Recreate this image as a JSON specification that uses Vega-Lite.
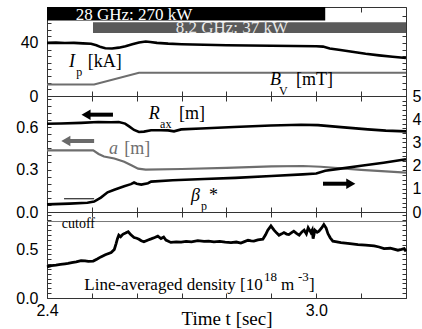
{
  "$schema": "https://vega.github.io/schema/vega-lite/v6.json",
  "padding": {"left": 15, "top": 5, "right": 2, "bottom": 2},
  "spacing": 0,
  "bounds": "flush",
  "config": {
    "view": {"stroke": "#333333", "strokeWidth": 1},
    "axis": {"labelFont": "Liberation Sans", "labelFontSize": 16, "labelColor": "#000000", "tickColor": "#333333", "domain": false, "grid": false, "labelFlush": false, "labelOverlap": false, "titleFont": "Liberation Serif", "titleFontSize": 19, "titleFontWeight": "normal", "titleColor": "#000000"},
    "text": {"font": "Liberation Serif", "fontSize": 17, "align": "left", "baseline": "alphabetic", "color": "#000000"}
  },
  "datasets": {
    "ip": [
      {"t": 2.400, "v": 40.0}, {"t": 2.420, "v": 40.2}, {"t": 2.440, "v": 39.9}, {"t": 2.460, "v": 40.0},
      {"t": 2.480, "v": 39.6}, {"t": 2.498, "v": 39.3}, {"t": 2.510, "v": 38.2}, {"t": 2.520, "v": 36.8},
      {"t": 2.530, "v": 36.0}, {"t": 2.545, "v": 35.8}, {"t": 2.560, "v": 36.4}, {"t": 2.575, "v": 37.5},
      {"t": 2.590, "v": 39.0}, {"t": 2.605, "v": 40.3}, {"t": 2.620, "v": 41.0}, {"t": 2.630, "v": 40.6},
      {"t": 2.645, "v": 40.0}, {"t": 2.670, "v": 39.4}, {"t": 2.700, "v": 39.0}, {"t": 2.750, "v": 38.6},
      {"t": 2.800, "v": 38.2}, {"t": 2.850, "v": 38.0}, {"t": 2.900, "v": 37.8}, {"t": 2.950, "v": 37.6},
      {"t": 3.000, "v": 37.5}, {"t": 3.015, "v": 37.2}, {"t": 3.030, "v": 35.8}, {"t": 3.050, "v": 34.8},
      {"t": 3.080, "v": 33.3}, {"t": 3.110, "v": 31.8}, {"t": 3.140, "v": 30.6}, {"t": 3.170, "v": 29.6},
      {"t": 3.200, "v": 28.6}
    ],
    "bv": [
      {"t": 2.400, "v": 8.7}, {"t": 2.505, "v": 8.7}, {"t": 2.605, "v": 17.5}, {"t": 3.200, "v": 17.5}
    ],
    "rax": [
      {"t": 2.400, "v": 0.624}, {"t": 2.431, "v": 0.626}, {"t": 2.476, "v": 0.630}, {"t": 2.514, "v": 0.636},
      {"t": 2.543, "v": 0.634}, {"t": 2.560, "v": 0.636}, {"t": 2.574, "v": 0.625}, {"t": 2.583, "v": 0.605},
      {"t": 2.594, "v": 0.580}, {"t": 2.605, "v": 0.566}, {"t": 2.616, "v": 0.568}, {"t": 2.632, "v": 0.578},
      {"t": 2.654, "v": 0.578}, {"t": 2.670, "v": 0.577}, {"t": 2.683, "v": 0.570}, {"t": 2.699, "v": 0.584},
      {"t": 2.743, "v": 0.590}, {"t": 2.817, "v": 0.601}, {"t": 2.899, "v": 0.612}, {"t": 2.966, "v": 0.617},
      {"t": 3.004, "v": 0.614}, {"t": 3.055, "v": 0.600}, {"t": 3.115, "v": 0.584}, {"t": 3.155, "v": 0.575},
      {"t": 3.200, "v": 0.570}
    ],
    "aminor": [
      {"t": 2.400, "v": 0.436}, {"t": 2.503, "v": 0.436}, {"t": 2.515, "v": 0.410}, {"t": 2.527, "v": 0.392},
      {"t": 2.550, "v": 0.378}, {"t": 2.572, "v": 0.355}, {"t": 2.588, "v": 0.330}, {"t": 2.603, "v": 0.306},
      {"t": 2.620, "v": 0.300}, {"t": 2.700, "v": 0.304}, {"t": 2.800, "v": 0.312}, {"t": 2.900, "v": 0.322},
      {"t": 2.970, "v": 0.325}, {"t": 3.010, "v": 0.320}, {"t": 3.100, "v": 0.298}, {"t": 3.200, "v": 0.278}
    ],
    "beta": [
      {"t": 2.400, "v": 0.33}, {"t": 2.450, "v": 0.36}, {"t": 2.490, "v": 0.40}, {"t": 2.505, "v": 0.45},
      {"t": 2.520, "v": 0.62}, {"t": 2.535, "v": 0.85}, {"t": 2.550, "v": 0.96}, {"t": 2.572, "v": 1.11},
      {"t": 2.587, "v": 1.20}, {"t": 2.594, "v": 1.27}, {"t": 2.600, "v": 1.22}, {"t": 2.610, "v": 1.18},
      {"t": 2.625, "v": 1.24}, {"t": 2.632, "v": 1.31}, {"t": 2.680, "v": 1.37}, {"t": 2.750, "v": 1.42},
      {"t": 2.820, "v": 1.47}, {"t": 2.900, "v": 1.55}, {"t": 2.970, "v": 1.62}, {"t": 3.000, "v": 1.66},
      {"t": 3.020, "v": 1.78}, {"t": 3.050, "v": 1.86}, {"t": 3.100, "v": 1.99}, {"t": 3.150, "v": 2.12},
      {"t": 3.200, "v": 2.27}
    ],
    "dens": [
      {"t": 2.400, "v": 0.320}, {"t": 2.410, "v": 0.333}, {"t": 2.420, "v": 0.338}, {"t": 2.430, "v": 0.345},
      {"t": 2.440, "v": 0.352}, {"t": 2.447, "v": 0.356}, {"t": 2.455, "v": 0.365}, {"t": 2.465, "v": 0.372},
      {"t": 2.476, "v": 0.385}, {"t": 2.485, "v": 0.382}, {"t": 2.492, "v": 0.376}, {"t": 2.503, "v": 0.380},
      {"t": 2.512, "v": 0.402}, {"t": 2.520, "v": 0.423}, {"t": 2.530, "v": 0.445}, {"t": 2.543, "v": 0.468},
      {"t": 2.550, "v": 0.500}, {"t": 2.554, "v": 0.560}, {"t": 2.557, "v": 0.610}, {"t": 2.560, "v": 0.646},
      {"t": 2.564, "v": 0.630}, {"t": 2.569, "v": 0.655}, {"t": 2.575, "v": 0.668}, {"t": 2.581, "v": 0.682},
      {"t": 2.587, "v": 0.650}, {"t": 2.594, "v": 0.622}, {"t": 2.600, "v": 0.615}, {"t": 2.605, "v": 0.605},
      {"t": 2.610, "v": 0.590}, {"t": 2.616, "v": 0.578}, {"t": 2.624, "v": 0.595}, {"t": 2.632, "v": 0.608},
      {"t": 2.640, "v": 0.622}, {"t": 2.647, "v": 0.636}, {"t": 2.654, "v": 0.612}, {"t": 2.660, "v": 0.628},
      {"t": 2.665, "v": 0.596}, {"t": 2.676, "v": 0.572}, {"t": 2.688, "v": 0.578}, {"t": 2.699, "v": 0.576},
      {"t": 2.710, "v": 0.583}, {"t": 2.722, "v": 0.578}, {"t": 2.736, "v": 0.590}, {"t": 2.750, "v": 0.582},
      {"t": 2.760, "v": 0.586}, {"t": 2.772, "v": 0.577}, {"t": 2.785, "v": 0.582}, {"t": 2.797, "v": 0.574},
      {"t": 2.810, "v": 0.570}, {"t": 2.822, "v": 0.576}, {"t": 2.832, "v": 0.565}, {"t": 2.840, "v": 0.580},
      {"t": 2.848, "v": 0.594}, {"t": 2.855, "v": 0.588}, {"t": 2.861, "v": 0.585}, {"t": 2.870, "v": 0.598},
      {"t": 2.881, "v": 0.605}, {"t": 2.887, "v": 0.650}, {"t": 2.892, "v": 0.698}, {"t": 2.899, "v": 0.742},
      {"t": 2.906, "v": 0.698}, {"t": 2.912, "v": 0.668}, {"t": 2.917, "v": 0.646}, {"t": 2.923, "v": 0.660},
      {"t": 2.928, "v": 0.673}, {"t": 2.934, "v": 0.658}, {"t": 2.939, "v": 0.653}, {"t": 2.945, "v": 0.672},
      {"t": 2.950, "v": 0.688}, {"t": 2.956, "v": 0.665}, {"t": 2.962, "v": 0.646}, {"t": 2.968, "v": 0.680},
      {"t": 2.973, "v": 0.698}, {"t": 2.978, "v": 0.660}, {"t": 2.982, "v": 0.722}, {"t": 2.986, "v": 0.690},
      {"t": 2.988, "v": 0.673}, {"t": 2.991, "v": 0.700}, {"t": 2.993, "v": 0.611}, {"t": 2.997, "v": 0.698},
      {"t": 3.002, "v": 0.676}, {"t": 3.006, "v": 0.688}, {"t": 3.012, "v": 0.720}, {"t": 3.017, "v": 0.756},
      {"t": 3.022, "v": 0.720}, {"t": 3.026, "v": 0.663}, {"t": 3.031, "v": 0.620}, {"t": 3.037, "v": 0.585},
      {"t": 3.046, "v": 0.578}, {"t": 3.055, "v": 0.570}, {"t": 3.065, "v": 0.565}, {"t": 3.075, "v": 0.560},
      {"t": 3.093, "v": 0.550}, {"t": 3.110, "v": 0.545}, {"t": 3.129, "v": 0.536}, {"t": 3.140, "v": 0.525},
      {"t": 3.151, "v": 0.508}, {"t": 3.165, "v": 0.512}, {"t": 3.182, "v": 0.492}, {"t": 3.190, "v": 0.500},
      {"t": 3.196, "v": 0.508}, {"t": 3.200, "v": 0.480}
    ]
  },
  "vconcat": [
    {
      "width": 359,
      "height": 89,
      "resolve": {"axis": {"x": "independent", "y": "independent"}},
      "layer": [
        {
          "data": {"values": [{"t1": 2.4, "t2": 3.02, "v1": 56.8, "v2": 67}]},
          "mark": {"type": "rect", "color": "#000000"},
          "encoding": {
            "x": {"field": "t1", "type": "quantitative", "scale": {"domain": [2.4, 3.2], "nice": false, "zero": false},
                  "axis": {"orient": "bottom", "values": [2.4, 2.5, 2.6, 2.7, 2.8, 2.9, 3.0, 3.1, 3.2], "labels": false, "title": null, "tickSize": -5}},
            "x2": {"field": "t2"},
            "y": {"field": "v1", "type": "quantitative", "scale": {"domain": [0, 67], "nice": false},
                  "axis": {"orient": "left", "values": [0, 5, 10, 15, 20, 25, 30, 35, 40, 45, 50, 55, 60], "labelExpr": "datum.value == 0 || datum.value == 40 ? datum.label : ''", "title": null, "tickSize": -4, "labelPadding": 13}},
            "y2": {"field": "v2"}
          }
        },
        {
          "data": {"values": [{"t1": 2.5025, "t2": 3.2, "v1": 47.5, "v2": 55.6}]},
          "mark": {"type": "rect", "color": "#5a5a5a"},
          "encoding": {
            "x": {"field": "t1", "type": "quantitative", "scale": {"domain": [2.4, 3.2], "nice": false, "zero": false}, "axis": null},
            "x2": {"field": "t2"},
            "y": {"field": "v1", "type": "quantitative", "scale": {"domain": [0, 67], "nice": false}, "axis": null},
            "y2": {"field": "v2"}
          }
        },
        {
          "data": {"name": "bv"},
          "mark": {"type": "line", "color": "#6e6e6e", "strokeWidth": 2},
          "encoding": {
            "x": {"field": "t", "type": "quantitative", "scale": {"domain": [2.4, 3.2], "nice": false, "zero": false}, "axis": null},
            "y": {"field": "v", "type": "quantitative", "scale": {"domain": [0, 67], "nice": false}, "axis": null}
          }
        },
        {
          "data": {"name": "ip"},
          "mark": {"type": "line", "color": "#000000", "strokeWidth": 2.6},
          "encoding": {
            "x": {"field": "t", "type": "quantitative", "scale": {"domain": [2.4, 3.2], "nice": false, "zero": false},
                  "axis": {"orient": "top", "values": [2.4, 2.5, 2.6, 2.7, 2.8, 2.9, 3.0, 3.1, 3.2], "labels": false, "title": null, "tickSize": -5}},
            "y": {"field": "v", "type": "quantitative", "scale": {"domain": [0, 67], "nice": false},
                  "axis": {"orient": "right", "values": [0, 5, 10, 15, 20, 25, 30, 35, 40, 45, 50, 55, 60], "labels": false, "title": null, "tickSize": -4}}
          }
        },
        {
          "data": {"values": [{"t": 2.594, "v": 57.4, "label": "28 GHz: 270 kW"}]},
          "mark": {"type": "text", "align": "center", "color": "#ffffff", "fontSize": 17},
          "encoding": {
            "x": {"field": "t", "type": "quantitative", "scale": {"domain": [2.4, 3.2], "nice": false, "zero": false}, "axis": null},
            "y": {"field": "v", "type": "quantitative", "scale": {"domain": [0, 67], "nice": false}, "axis": null},
            "text": {"field": "label"}
          }
        },
        {
          "data": {"values": [{"t": 2.812, "v": 47.6, "label": "8.2 GHz: 37 kW"}]},
          "mark": {"type": "text", "align": "center", "color": "#e8e8e8", "fontSize": 17},
          "encoding": {
            "x": {"field": "t", "type": "quantitative", "scale": {"domain": [2.4, 3.2], "nice": false, "zero": false}, "axis": null},
            "y": {"field": "v", "type": "quantitative", "scale": {"domain": [0, 67], "nice": false}, "axis": null},
            "text": {"field": "label"}
          }
        },
        {
          "data": {"values": [{"t": 2.449, "v": 22.1, "label": "I"}, {"t": 2.897, "v": 8.3, "label": "B"}]},
          "mark": {"type": "text", "fontStyle": "italic", "fontSize": 18},
          "encoding": {
            "x": {"field": "t", "type": "quantitative", "scale": {"domain": [2.4, 3.2], "nice": false, "zero": false}, "axis": null},
            "y": {"field": "v", "type": "quantitative", "scale": {"domain": [0, 67], "nice": false}, "axis": null},
            "text": {"field": "label"}
          }
        },
        {
          "data": {"values": [{"t": 2.465, "v": 15.3, "label": "p"}, {"t": 2.917, "v": 0.8, "label": "V"}]},
          "mark": {"type": "text", "fontSize": 12},
          "encoding": {
            "x": {"field": "t", "type": "quantitative", "scale": {"domain": [2.4, 3.2], "nice": false, "zero": false}, "axis": null},
            "y": {"field": "v", "type": "quantitative", "scale": {"domain": [0, 67], "nice": false}, "axis": null},
            "text": {"field": "label"}
          }
        },
        {
          "data": {"values": [{"t": 2.491, "v": 22.1, "label": "[kA]"}, {"t": 2.955, "v": 8.3, "label": "[mT]"}]},
          "mark": {"type": "text", "fontSize": 18},
          "encoding": {
            "x": {"field": "t", "type": "quantitative", "scale": {"domain": [2.4, 3.2], "nice": false, "zero": false}, "axis": null},
            "y": {"field": "v", "type": "quantitative", "scale": {"domain": [0, 67], "nice": false}, "axis": null},
            "text": {"field": "label"}
          }
        }
      ]
    },
    {
      "width": 359,
      "height": 116,
      "resolve": {"scale": {"y": "independent"}, "axis": {"x": "independent", "y": "independent"}},
      "layer": [
        {
          "data": {"name": "rax"},
          "mark": {"type": "line", "color": "#000000", "strokeWidth": 2.6},
          "encoding": {
            "x": {"field": "t", "type": "quantitative", "scale": {"domain": [2.4, 3.2], "nice": false, "zero": false},
                  "axis": {"orient": "bottom", "values": [2.4, 2.5, 2.6, 2.7, 2.8, 2.9, 3.0, 3.1, 3.2], "labels": false, "title": null, "tickSize": -5}},
            "y": {"field": "v", "type": "quantitative", "scale": {"domain": [0, 0.82], "nice": false},
                  "axis": {"orient": "left", "values": [0, 0.05, 0.1, 0.15, 0.2, 0.25, 0.3, 0.35, 0.4, 0.45, 0.5, 0.55, 0.6, 0.65, 0.7, 0.75, 0.8], "labelExpr": "datum.value == 0 || datum.value == 0.3 || datum.value == 0.6 ? format(datum.value, '.1f') : ''", "title": null, "tickSize": -4, "labelPadding": 13}}
          }
        },
        {
          "data": {"name": "aminor"},
          "mark": {"type": "line", "color": "#6e6e6e", "strokeWidth": 2.2},
          "encoding": {
            "x": {"field": "t", "type": "quantitative", "scale": {"domain": [2.4, 3.2], "nice": false, "zero": false}, "axis": null},
            "y": {"field": "v", "type": "quantitative", "scale": {"domain": [0, 0.82], "nice": false}, "axis": null}
          }
        },
        {
          "data": {"name": "beta"},
          "mark": {"type": "line", "color": "#000000", "strokeWidth": 2.6},
          "encoding": {
            "x": {"field": "t", "type": "quantitative", "scale": {"domain": [2.4, 3.2], "nice": false, "zero": false},
                  "axis": {"orient": "top", "values": [2.4, 2.5, 2.6, 2.7, 2.8, 2.9, 3.0, 3.1, 3.2], "labels": false, "title": null, "tickSize": -5}},
            "y": {"field": "v", "type": "quantitative", "scale": {"domain": [0, 5], "nice": false},
                  "axis": {"orient": "right", "values": [0, 0.2, 0.4, 0.6, 0.8, 1, 1.2, 1.4, 1.6, 1.8, 2, 2.2, 2.4, 2.6, 2.8, 3, 3.2, 3.4, 3.6, 3.8, 4, 4.2, 4.4, 4.6, 4.8, 5], "labelExpr": "datum.value % 1 == 0 ? format(datum.value, 'd') : ''", "title": null, "tickSize": -4, "labelPadding": 10}}
          }
        },
        {
          "data": {"values": [{"t": 2.438, "v": 0.57}, {"t": 2.505, "v": 0.57}]},
          "mark": {"type": "line", "color": "#000000", "strokeWidth": 1},
          "encoding": {
            "x": {"field": "t", "type": "quantitative", "scale": {"domain": [2.4, 3.2], "nice": false, "zero": false}, "axis": null},
            "y": {"field": "v", "type": "quantitative", "scale": {"domain": [0, 5], "nice": false}, "axis": null}
          }
        },
        {
          "data": {"values": [{"t1": 2.49, "t2": 2.547, "v": 0.688}, {"t1": 3.015, "t2": 3.075, "v": 0.2}]},
          "mark": {"type": "rule", "color": "#000000", "strokeWidth": 4},
          "encoding": {
            "x": {"field": "t1", "type": "quantitative", "scale": {"domain": [2.4, 3.2], "nice": false, "zero": false}, "axis": null},
            "x2": {"field": "t2"},
            "y": {"field": "v", "type": "quantitative", "scale": {"domain": [0, 0.82], "nice": false}, "axis": null}
          }
        },
        {
          "data": {"values": [{"t1": 2.445, "t2": 2.505, "v": 0.502}]},
          "mark": {"type": "rule", "color": "#6a6a6a", "strokeWidth": 4},
          "encoding": {
            "x": {"field": "t1", "type": "quantitative", "scale": {"domain": [2.4, 3.2], "nice": false, "zero": false}, "axis": null},
            "x2": {"field": "t2"},
            "y": {"field": "v", "type": "quantitative", "scale": {"domain": [0, 0.82], "nice": false}, "axis": null}
          }
        },
        {
          "data": {"values": [{"t": 2.487, "v": 0.688}]},
          "mark": {"type": "point", "shape": "triangle-left", "filled": true, "color": "#000000", "size": 110, "opacity": 1},
          "encoding": {
            "x": {"field": "t", "type": "quantitative", "scale": {"domain": [2.4, 3.2], "nice": false, "zero": false}, "axis": null},
            "y": {"field": "v", "type": "quantitative", "scale": {"domain": [0, 0.82], "nice": false}, "axis": null}
          }
        },
        {
          "data": {"values": [{"t": 2.442, "v": 0.502}]},
          "mark": {"type": "point", "shape": "triangle-left", "filled": true, "color": "#6a6a6a", "size": 110, "opacity": 1},
          "encoding": {
            "x": {"field": "t", "type": "quantitative", "scale": {"domain": [2.4, 3.2], "nice": false, "zero": false}, "axis": null},
            "y": {"field": "v", "type": "quantitative", "scale": {"domain": [0, 0.82], "nice": false}, "axis": null}
          }
        },
        {
          "data": {"values": [{"t": 3.077, "v": 0.2}]},
          "mark": {"type": "point", "shape": "triangle-right", "filled": true, "color": "#000000", "size": 110, "opacity": 1},
          "encoding": {
            "x": {"field": "t", "type": "quantitative", "scale": {"domain": [2.4, 3.2], "nice": false, "zero": false}, "axis": null},
            "y": {"field": "v", "type": "quantitative", "scale": {"domain": [0, 0.82], "nice": false}, "axis": null}
          }
        },
        {
          "data": {"values": [{"t": 2.627, "v": 0.659, "label": "R"}, {"t": 2.721, "v": 0.078, "label": "β"}]},
          "mark": {"type": "text", "fontStyle": "italic", "fontSize": 18},
          "encoding": {
            "x": {"field": "t", "type": "quantitative", "scale": {"domain": [2.4, 3.2], "nice": false, "zero": false}, "axis": null},
            "y": {"field": "v", "type": "quantitative", "scale": {"domain": [0, 0.82], "nice": false}, "axis": null},
            "text": {"field": "label"}
          }
        },
        {
          "data": {"values": [{"t": 2.538, "v": 0.412, "label": "a"}]},
          "mark": {"type": "text", "fontStyle": "italic", "fontSize": 18, "color": "#6e6e6e"},
          "encoding": {
            "x": {"field": "t", "type": "quantitative", "scale": {"domain": [2.4, 3.2], "nice": false, "zero": false}, "axis": null},
            "y": {"field": "v", "type": "quantitative", "scale": {"domain": [0, 0.82], "nice": false}, "axis": null},
            "text": {"field": "label"}
          }
        },
        {
          "data": {"values": [{"t": 2.572, "v": 0.412, "label": "[m]"}]},
          "mark": {"type": "text", "fontSize": 18, "color": "#6e6e6e"},
          "encoding": {
            "x": {"field": "t", "type": "quantitative", "scale": {"domain": [2.4, 3.2], "nice": false, "zero": false}, "axis": null},
            "y": {"field": "v", "type": "quantitative", "scale": {"domain": [0, 0.82], "nice": false}, "axis": null},
            "text": {"field": "label"}
          }
        },
        {
          "data": {"values": [{"t": 2.694, "v": 0.659, "label": "[m]"}, {"t": 2.761, "v": 0.078, "label": "*"}]},
          "mark": {"type": "text", "fontSize": 18},
          "encoding": {
            "x": {"field": "t", "type": "quantitative", "scale": {"domain": [2.4, 3.2], "nice": false, "zero": false}, "axis": null},
            "y": {"field": "v", "type": "quantitative", "scale": {"domain": [0, 0.82], "nice": false}, "axis": null},
            "text": {"field": "label"}
          }
        },
        {
          "data": {"values": [{"t": 2.652, "v": 0.594, "label": "ax"}, {"t": 2.743, "v": 0.014, "label": "p"}]},
          "mark": {"type": "text", "fontSize": 12},
          "encoding": {
            "x": {"field": "t", "type": "quantitative", "scale": {"domain": [2.4, 3.2], "nice": false, "zero": false}, "axis": null},
            "y": {"field": "v", "type": "quantitative", "scale": {"domain": [0, 0.82], "nice": false}, "axis": null},
            "text": {"field": "label"}
          }
        }
      ]
    },
    {
      "width": 359,
      "height": 86,
      "resolve": {"axis": {"x": "independent", "y": "independent"}},
      "layer": [
        {
          "data": {"values": [{"v": 0.787}]},
          "mark": {"type": "rule", "color": "#777777", "strokeWidth": 1},
          "encoding": {
            "y": {"field": "v", "type": "quantitative", "scale": {"domain": [0, 0.885], "nice": false},
                  "axis": {"orient": "left", "values": [0, 0.05, 0.1, 0.15, 0.2, 0.25, 0.3, 0.35, 0.4, 0.45, 0.5, 0.55, 0.6, 0.65, 0.7, 0.75, 0.8, 0.85], "labelExpr": "datum.value == 0 || datum.value == 0.5 ? format(datum.value, '.1f') : ''", "title": null, "tickSize": -4, "labelPadding": 13}}
          }
        },
        {
          "data": {"name": "dens"},
          "mark": {"type": "line", "color": "#000000", "strokeWidth": 2.8},
          "encoding": {
            "x": {"field": "t", "type": "quantitative", "scale": {"domain": [2.4, 3.2], "nice": false, "zero": false},
                  "axis": {"orient": "bottom", "values": [2.4, 2.5, 2.6, 2.7, 2.8, 2.9, 3.0, 3.1, 3.2], "labelExpr": "datum.value == 2.4 || datum.value == 3 ? format(datum.value, '.1f') : ''", "labelPadding": 9, "tickSize": -5, "title": "Time t [sec]", "titleY": 26, "titleBaseline": "alphabetic"}},
            "y": {"field": "v", "type": "quantitative", "scale": {"domain": [0, 0.885], "nice": false},
                  "axis": {"orient": "right", "values": [0, 0.05, 0.1, 0.15, 0.2, 0.25, 0.3, 0.35, 0.4, 0.45, 0.5, 0.55, 0.6, 0.65, 0.7, 0.75, 0.8, 0.85], "labels": false, "title": null, "tickSize": -4}}
          }
        },
        {
          "data": {"values": [{"t": 2.4, "v": 0}]},
          "mark": {"type": "point", "opacity": 0},
          "encoding": {
            "x": {"field": "t", "type": "quantitative", "scale": {"domain": [2.4, 3.2], "nice": false, "zero": false},
                  "axis": {"orient": "top", "values": [2.4, 2.5, 2.6, 2.7, 2.8, 2.9, 3.0, 3.1, 3.2], "labels": false, "title": null, "tickSize": -5}},
            "y": {"field": "v", "type": "quantitative", "scale": {"domain": [0, 0.885], "nice": false}, "axis": null}
          }
        },
        {
          "data": {"values": [{"t": 2.433, "v": 0.72, "label": "cutoff"}]},
          "mark": {"type": "text", "fontSize": 14},
          "encoding": {
            "x": {"field": "t", "type": "quantitative", "scale": {"domain": [2.4, 3.2], "nice": false, "zero": false}, "axis": null},
            "y": {"field": "v", "type": "quantitative", "scale": {"domain": [0, 0.885], "nice": false}, "axis": null},
            "text": {"field": "label"}
          }
        },
        {
          "data": {"values": [{"t": 2.4831, "v": 0.082, "label": "Line-averaged density [10"}, {"t": 2.9214, "v": 0.082, "label": "m"}, {"t": 2.9838, "v": 0.082, "label": "]"}]},
          "mark": {"type": "text", "fontSize": 17},
          "encoding": {
            "x": {"field": "t", "type": "quantitative", "scale": {"domain": [2.4, 3.2], "nice": false, "zero": false}, "axis": null},
            "y": {"field": "v", "type": "quantitative", "scale": {"domain": [0, 0.885], "nice": false}, "axis": null},
            "text": {"field": "label"}
          }
        },
        {
          "data": {"values": [{"t": 2.8836, "v": 0.172, "label": "18"}, {"t": 2.9593, "v": 0.172, "label": "-3"}]},
          "mark": {"type": "text", "fontSize": 13},
          "encoding": {
            "x": {"field": "t", "type": "quantitative", "scale": {"domain": [2.4, 3.2], "nice": false, "zero": false}, "axis": null},
            "y": {"field": "v", "type": "quantitative", "scale": {"domain": [0, 0.885], "nice": false}, "axis": null},
            "text": {"field": "label"}
          }
        }
      ]
    }
  ]
}
